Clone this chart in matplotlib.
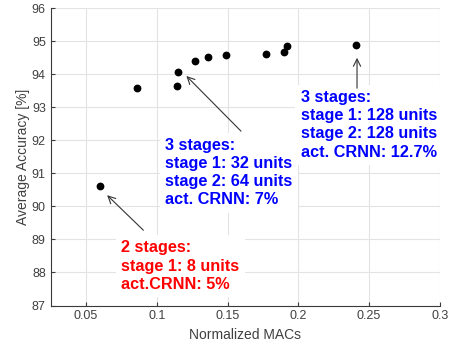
import matplotlib
matplotlib.use("Agg")
import matplotlib.pyplot as plt

# normalized MACs vs average accuracy
macs = [0.060, 0.086, 0.114, 0.115, 0.127, 0.136, 0.149, 0.177, 0.190, 0.192, 0.241]
acc = [90.63, 93.58, 93.65, 94.07, 94.39, 94.52, 94.59, 94.62, 94.68, 94.86, 94.90]

x_ticks = [0.05, 0.1, 0.15, 0.2, 0.25, 0.3]
x_tick_labels = ["0.05", "0.1", "0.15", "0.2", "0.25", "0.3"]
y_ticks = [87, 88, 89, 90, 91, 92, 93, 94, 95, 96]

notes = [
    ("3 stages:\nstage 1: 32 units\nstage 2: 64 units\nact. CRNN: 7%", "blue",
     (0.106, 92.07), (0.1595, 92.28), (0.1209, 93.95)),
    ("3 stages:\nstage 1: 128 units\nstage 2: 128 units\nact. CRNN: 12.7%", "blue",
     (0.2018, 93.52), (0.2415, 93.58), (0.2415, 94.5)),
    ("2 stages:\nstage 1: 8 units\nact.CRNN: 5%", "red",
     (0.0749, 88.97), (0.0905, 89.28), (0.0649, 90.34)),
]

fig = plt.figure(figsize=(4.54, 3.49), dpi=100)
ax = fig.add_axes([0.1117, 0.1246, 0.857, 0.8516])

ax.plot(macs, acc, "o", color="black", markersize=4.6, zorder=3)

for text, color, pos, start, head in notes:
    ax.text(pos[0], pos[1], text, color=color, fontsize=11.7, fontweight="bold",
            family="Liberation Sans", ha="left", va="top", linespacing=1.26, zorder=4,
            bbox=dict(facecolor="white", edgecolor="none", pad=4))
    ax.annotate("", xy=head, xytext=start,
                arrowprops=dict(arrowstyle="->", color="#333333", lw=0.8,
                                shrinkA=0, shrinkB=0, mutation_scale=13), zorder=5)

ax.set_xlim(0.025, 0.3)
ax.set_ylim(87, 96)
ax.set_xticks(x_ticks)
ax.set_xticklabels(x_tick_labels)
ax.set_yticks(y_ticks)
ax.grid(True, color="#e3e3e3", lw=0.8)
ax.set_axisbelow(True)

for side in ["top", "right"]:
    ax.spines[side].set_visible(False)
for side in ["left", "bottom"]:
    ax.spines[side].set_color("#3a3a3a")
    ax.spines[side].set_linewidth(0.8)

ax.tick_params(direction="in", length=3, color="#3a3a3a", labelcolor="#404040",
               labelsize=9)
for lbl in ax.get_xticklabels() + ax.get_yticklabels():
    lbl.set_family("Liberation Sans")

ax.set_xlabel("Normalized MACs", fontsize=10, color="#404040", family="Liberation Sans")
ax.set_ylabel("Average Accuracy [%]", fontsize=10, color="#404040", family="Liberation Sans",
              labelpad=1)

fig.savefig("out.png", dpi=100)
